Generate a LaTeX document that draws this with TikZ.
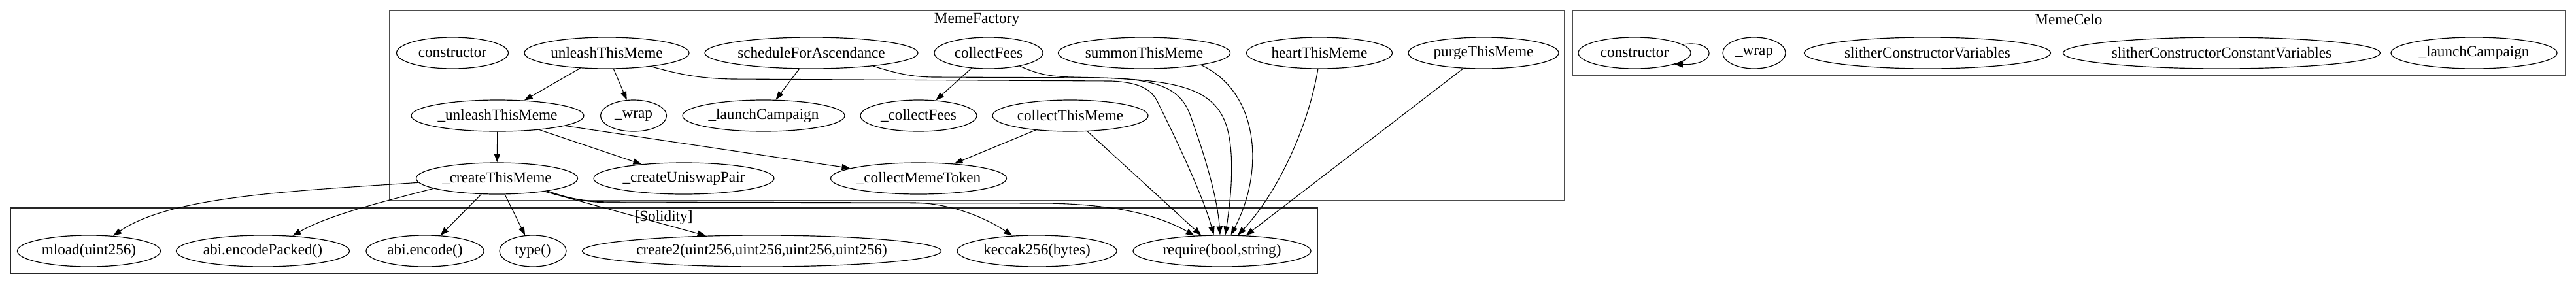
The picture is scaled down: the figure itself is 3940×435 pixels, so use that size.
\documentclass[tikz,border=0pt]{standalone}
\usepackage{fontspec}
\setmainfont{Liberation Serif}
\usetikzlibrary{shapes.geometric, arrows.meta}

\begin{document}
\begin{tikzpicture}[x=0.5pt, y=-0.5pt, ->, >={Triangle[length=6.5pt,width=4.6pt]}, line width=0.55pt,
                    fn node/.style={ellipse, draw, -, line width=0.6pt, font=\fontsize{11.6}{13}\selectfont,
                                    inner xsep=-40pt, inner ysep=0pt, minimum height=24pt, minimum width=#1*0.5pt},
                    box/.style={-, draw=black!70, line width=1pt},
                    box label/.style={font=\fontsize{11.6}{13}\selectfont}]

  \useasboundingbox (0,0) rectangle (3940,435);

  % Cluster
  \draw[box] (596,16) rectangle (2393,307);
  \node[box label] (mfLabel) at (1494,30) {MemeFactory};
  \draw[box] (2405,16) rectangle (3924,116);
  \node[box label] (mcLabel) at (3164,30) {MemeCelo};
  \draw[box, draw=black!85, line width=0.8pt] (16,318) rectangle (2015,418);
  \node[box label] (solLabel) at (1015,333) {[Solidity]};

  % MemeFactory, riga alta
  \node[fn node=171] (mfCtor)   at (692,81)  {constructor};
  \node[fn node=252] (unleash)  at (928,81)  {unleashThisMeme};
  \node[fn node=326] (schedule) at (1241,81) {scheduleForAscendance};
  \node[fn node=166] (cfees)    at (1512,81) {collectFees};
  \node[fn node=263] (summon)   at (1750,81) {summonThisMeme};
  \node[fn node=223] (heart)    at (2018,81) {heartThisMeme};
  \node[fn node=230] (purge)    at (2269,81) {purgeThisMeme};

  % MemeFactory, interne
  \node[fn node=264] (uUnleash) at (761,177)  {\_unleashThisMeme};
  \node[fn node=101] (mfWrap)   at (969,177)  {\_wrap};
  \node[fn node=248] (mfLaunch) at (1168,177) {\_launchCampaign};
  \node[fn node=178] (uCFees)   at (1405,177) {\_collectFees};
  \node[fn node=238] (cThis)    at (1637,177) {collectThisMeme};
  \node[fn node=247] (uCreate)  at (760,273)  {\_createThisMeme};
  \node[fn node=276] (uPair)    at (1046,273) {\_createUniswapPair};
  \node[fn node=269] (uToken)   at (1405,273) {\_collectMemeToken};

  % Solidity
  \node[fn node=219] (mload)     at (136,384)  {mload(uint256)};
  \node[fn node=265] (encPacked) at (402,384)  {abi.encodePacked()};
  \node[fn node=180] (enc)       at (650,384)  {abi.encode()};
  \node[fn node=102] (typeFn)    at (815,384)  {type()};
  \node[fn node=549] (create2)   at (1165,384) {create2(uint256,uint256,uint256,uint256)};
  \node[fn node=244] (keccak)    at (1586,384) {keccak256(bytes)};
  \node[fn node=272] (require)   at (1869,384) {require(bool,string)};

  % MemeCelo
  \node[fn node=172] (mcCtor)   at (2500,81) {constructor};
  \node[fn node=96]  (mcWrap)   at (2683,81) {\_wrap};
  \node[fn node=377] (slVars)   at (2948,81) {slitherConstructorVariables};
  \node[fn node=485] (slConst)  at (3398,81) {slitherConstructorConstantVariables};
  \node[fn node=254] (mcLaunch) at (3784,81) {\_launchCampaign};

  \path
    (unleash) edge (uUnleash)
    (unleash) edge (mfWrap)
    (schedule) edge (mfLaunch)
    (cfees) edge (uCFees)
    (cThis) edge (uToken)
    (uUnleash) edge (uCreate)
    (uUnleash) edge (uPair)
    (uUnleash) edge (uToken)
    (uCreate) edge (enc)
    (uCreate) edge (typeFn)
    (uCreate) edge (create2)
    (cThis) edge (require.143)
    (purge) edge (require.33);

  % verso require, dall'alto
  \draw (unleash.-17) .. controls (1040,114) and (1070,120) .. (1120,121)
    -- (1700,124) .. controls (1740,126) and (1760,135) .. (1770,155)
    .. controls (1800,215) and (1840,300) .. (require.117);
  \draw (schedule.-12) .. controls (1370,112) and (1395,118) .. (1430,118)
    -- (1680,119) .. controls (1770,120) and (1805,135) .. (1820,175)
    .. controls (1840,230) and (1862,300) .. (require.97);
  \draw (cfees.-23) .. controls (1585,112) and (1600,117) .. (1640,118)
    .. controls (1790,121) and (1860,128) .. (1878,200)
    .. controls (1890,250) and (1880,320) .. (require.78);
  \draw (summon.-12) .. controls (1925,140) and (1935,260) .. (require.61);
  \draw (heart.-95) .. controls (2000,200) and (1950,300) .. (require.45);

  % da _createThisMeme
  \draw (uCreate.-14) .. controls (860,300) and (885,309) .. (930,310)
    -- (1600,311) .. controls (1680,312) and (1760,322) .. (require.151);
  \draw (uCreate.-14) .. controls (860,300) and (885,308) .. (930,309)
    -- (1400,310) .. controls (1460,312) and (1510,335) .. (keccak.148);
  \draw (uCreate.183) .. controls (450,292) and (260,300) .. (mload.32);
  \draw (uCreate.189) .. controls (580,310) and (500,330) .. (encPacked.27);

  % ciclo sul costruttore
  \draw (mcCtor.10) .. controls (2625,60) and (2630,100) .. (mcCtor.-16);

\end{tikzpicture}
\end{document}
